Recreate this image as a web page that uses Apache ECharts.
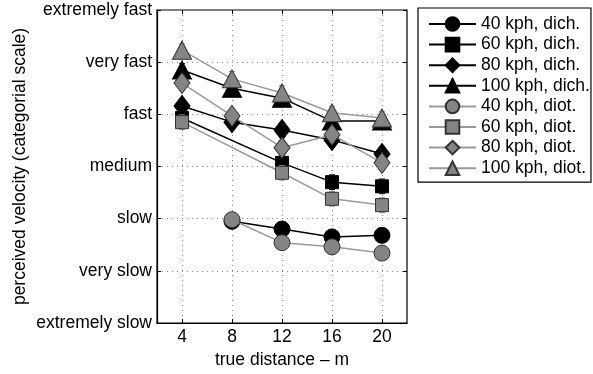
<!DOCTYPE html>
<html><head><meta charset="utf-8">
<script src="https://cdn.jsdelivr.net/npm/echarts@6/dist/echarts.min.js"></script>
<style>html,body{margin:0;padding:0;background:#fff}#c{width:593px;height:374px}</style>
</head><body><div id="c"></div>
<script>
const distances = [4, 8, 12, 16, 20];
const yTickLabels = ['extremely slow', 'very slow', 'slow', 'medium', 'fast', 'very fast', 'extremely fast'];
const seriesNames = ['40 kph, dich.', '60 kph, dich.', '80 kph, dich.', '100 kph, dich.',
                     '40 kph, diot.', '60 kph, diot.', '80 kph, diot.', '100 kph, diot.'];
const dich40  = [null, 2.95, 2.80, 2.65, 2.68];
const dich60  = [4.93, null, 4.07, 3.70, 3.62];
const dich80  = [5.16, 4.85, 4.70, 4.51, 4.24];
const dich100 = [5.85, 5.50, 5.31, 4.87, 4.87];
const diot40  = [null, 2.98, 2.54, 2.46, 2.34];
const diot60  = [4.85, null, 3.88, 3.38, 3.26];
const diot80  = [5.60, 4.97, 4.36, 4.61, 4.07];
const diot100 = [6.23, 5.68, 5.41, 5.03, 4.93];
const err40  = [null, 0.12, 0.10, 0.12, 0.12];
const err60  = [0.14, null, 0.14, 0.14, 0.14];
const err80  = [0.14, 0.14, 0.14, 0.14, 0.14];
const err100 = [0.12, 0.14, 0.14, 0.12, 0.12];

const values = [dich40, dich60, dich80, dich100, diot40, diot60, diot80, diot100];
const errs = [err40, err60, err80, err100, err40, err60, err80, err100];
const symbols = ['circle', 'rect', 'diamond', 'triangle', 'circle', 'rect', 'diamond', 'triangle'];
const symSizes = [16, 13, [16, 21], [19, 18], 16, 13, [16, 21], [19, 18]];

const FONT = 'Liberation Sans';
const FS = 17.5;
const chart = echarts.init(document.getElementById('c'), null, {renderer: 'canvas'});

const series = [];
values.forEach((vals, i) => {
  const diot = i >= 4;
  const lineColor = diot ? '#9a9a9a' : '#000';
  const fill = diot ? '#848484' : '#000';
  const data = distances.map((d, j) => [d, vals[j]]);
  const errData = distances.map((d, j) => vals[j] == null ? null : [d, vals[j], errs[i][j]]).filter(Boolean);
  series.push({
    type: 'custom', name: 'err ' + i, silent: true, z: 2 + i,
    data: errData,
    renderItem: (params, api) => {
      const x = api.value(0), y = api.value(1), e = api.value(2);
      const lo = api.coord([x, y - e]), hi = api.coord([x, y + e]);
      const st = {stroke: diot ? '#8a8a8a' : '#000', lineWidth: 1};
      return {type: 'group', children: [
        {type: 'line', shape: {x1: lo[0], y1: lo[1], x2: hi[0], y2: hi[1]}, style: st},
        {type: 'line', shape: {x1: lo[0] - 3, y1: lo[1], x2: lo[0] + 3, y2: lo[1]}, style: st},
        {type: 'line', shape: {x1: hi[0] - 3, y1: hi[1], x2: hi[0] + 3, y2: hi[1]}, style: st}
      ]};
    }
  });
  series.push({
    type: 'line', name: seriesNames[i], data: data, connectNulls: true, z: 3 + i,
    symbol: symbols[i], symbolSize: symSizes[i], showAllSymbol: true,
    lineStyle: {color: lineColor, width: 1.5},
    itemStyle: {color: fill, borderColor: diot ? '#333' : '#000', borderWidth: 1},
    emphasis: {disabled: true}, animation: false
  });
});

const option = {
  animation: false,
  grid: {left: 157, right: 186, top: 10, bottom: 51, show: true, borderColor: '#000', borderWidth: 1.2},
  legend: {
    data: seriesNames.map(n => ({name: n})),
    orient: 'vertical', left: 418, top: 8, itemWidth: 47, itemHeight: 17, itemGap: 2.6,
    padding: [7, 1, 5, 10], borderColor: '#000', borderWidth: 1.2,
    textStyle: {fontFamily: FONT, fontSize: FS, color: '#000', lineHeight: 17},
    selectedMode: false
  },
  xAxis: [{
    type: 'value', min: 2, max: 22, interval: 2,
    axisLabel: {fontFamily: FONT, fontSize: FS, color: '#000', margin: 5, customValues: distances,
      formatter: v => distances.includes(v) ? String(v) : ''},
    axisLine: {show: true, lineStyle: {color: '#000', width: 1.2}},
    axisTick: {show: true, inside: true, length: 4, lineStyle: {color: '#000'}, customValues: distances},
    splitLine: {show: true, lineStyle: {type: [1, 4], color: '#888'}},
    name: 'true distance – m', nameLocation: 'middle', nameGap: 20,
    nameTextStyle: {fontFamily: FONT, fontSize: FS, color: '#000'}
  }, {
    type: 'value', position: 'top', min: 2, max: 22, interval: 2,
    axisLabel: {show: false}, axisLine: {show: false}, splitLine: {show: false},
    axisTick: {show: true, inside: true, length: 4, lineStyle: {color: '#000'}, customValues: distances}
  }],
  yAxis: [{
    type: 'value', min: 1, max: 7, interval: 1,
    axisLabel: {fontFamily: FONT, fontSize: FS, color: '#000', margin: 5,
      formatter: v => yTickLabels[Math.round(v) - 1] || ''},
    axisLine: {show: true, lineStyle: {color: '#000', width: 1.2}},
    axisTick: {show: true, inside: true, length: 4, lineStyle: {color: '#000'}},
    splitLine: {show: true, lineStyle: {type: [1, 4], color: '#888'}},
    name: 'perceived velocity (categorial scale)', nameLocation: 'middle', nameGap: 128,
    nameTextStyle: {fontFamily: FONT, fontSize: FS, color: '#000'}
  }, {
    type: 'value', position: 'right', min: 1, max: 7, interval: 1,
    axisLabel: {show: false}, axisLine: {show: false}, splitLine: {show: false},
    axisTick: {show: true, inside: true, length: 4, lineStyle: {color: '#000'}}
  }],
  series: series
};
chart.setOption(option);
</script>
</body></html>
